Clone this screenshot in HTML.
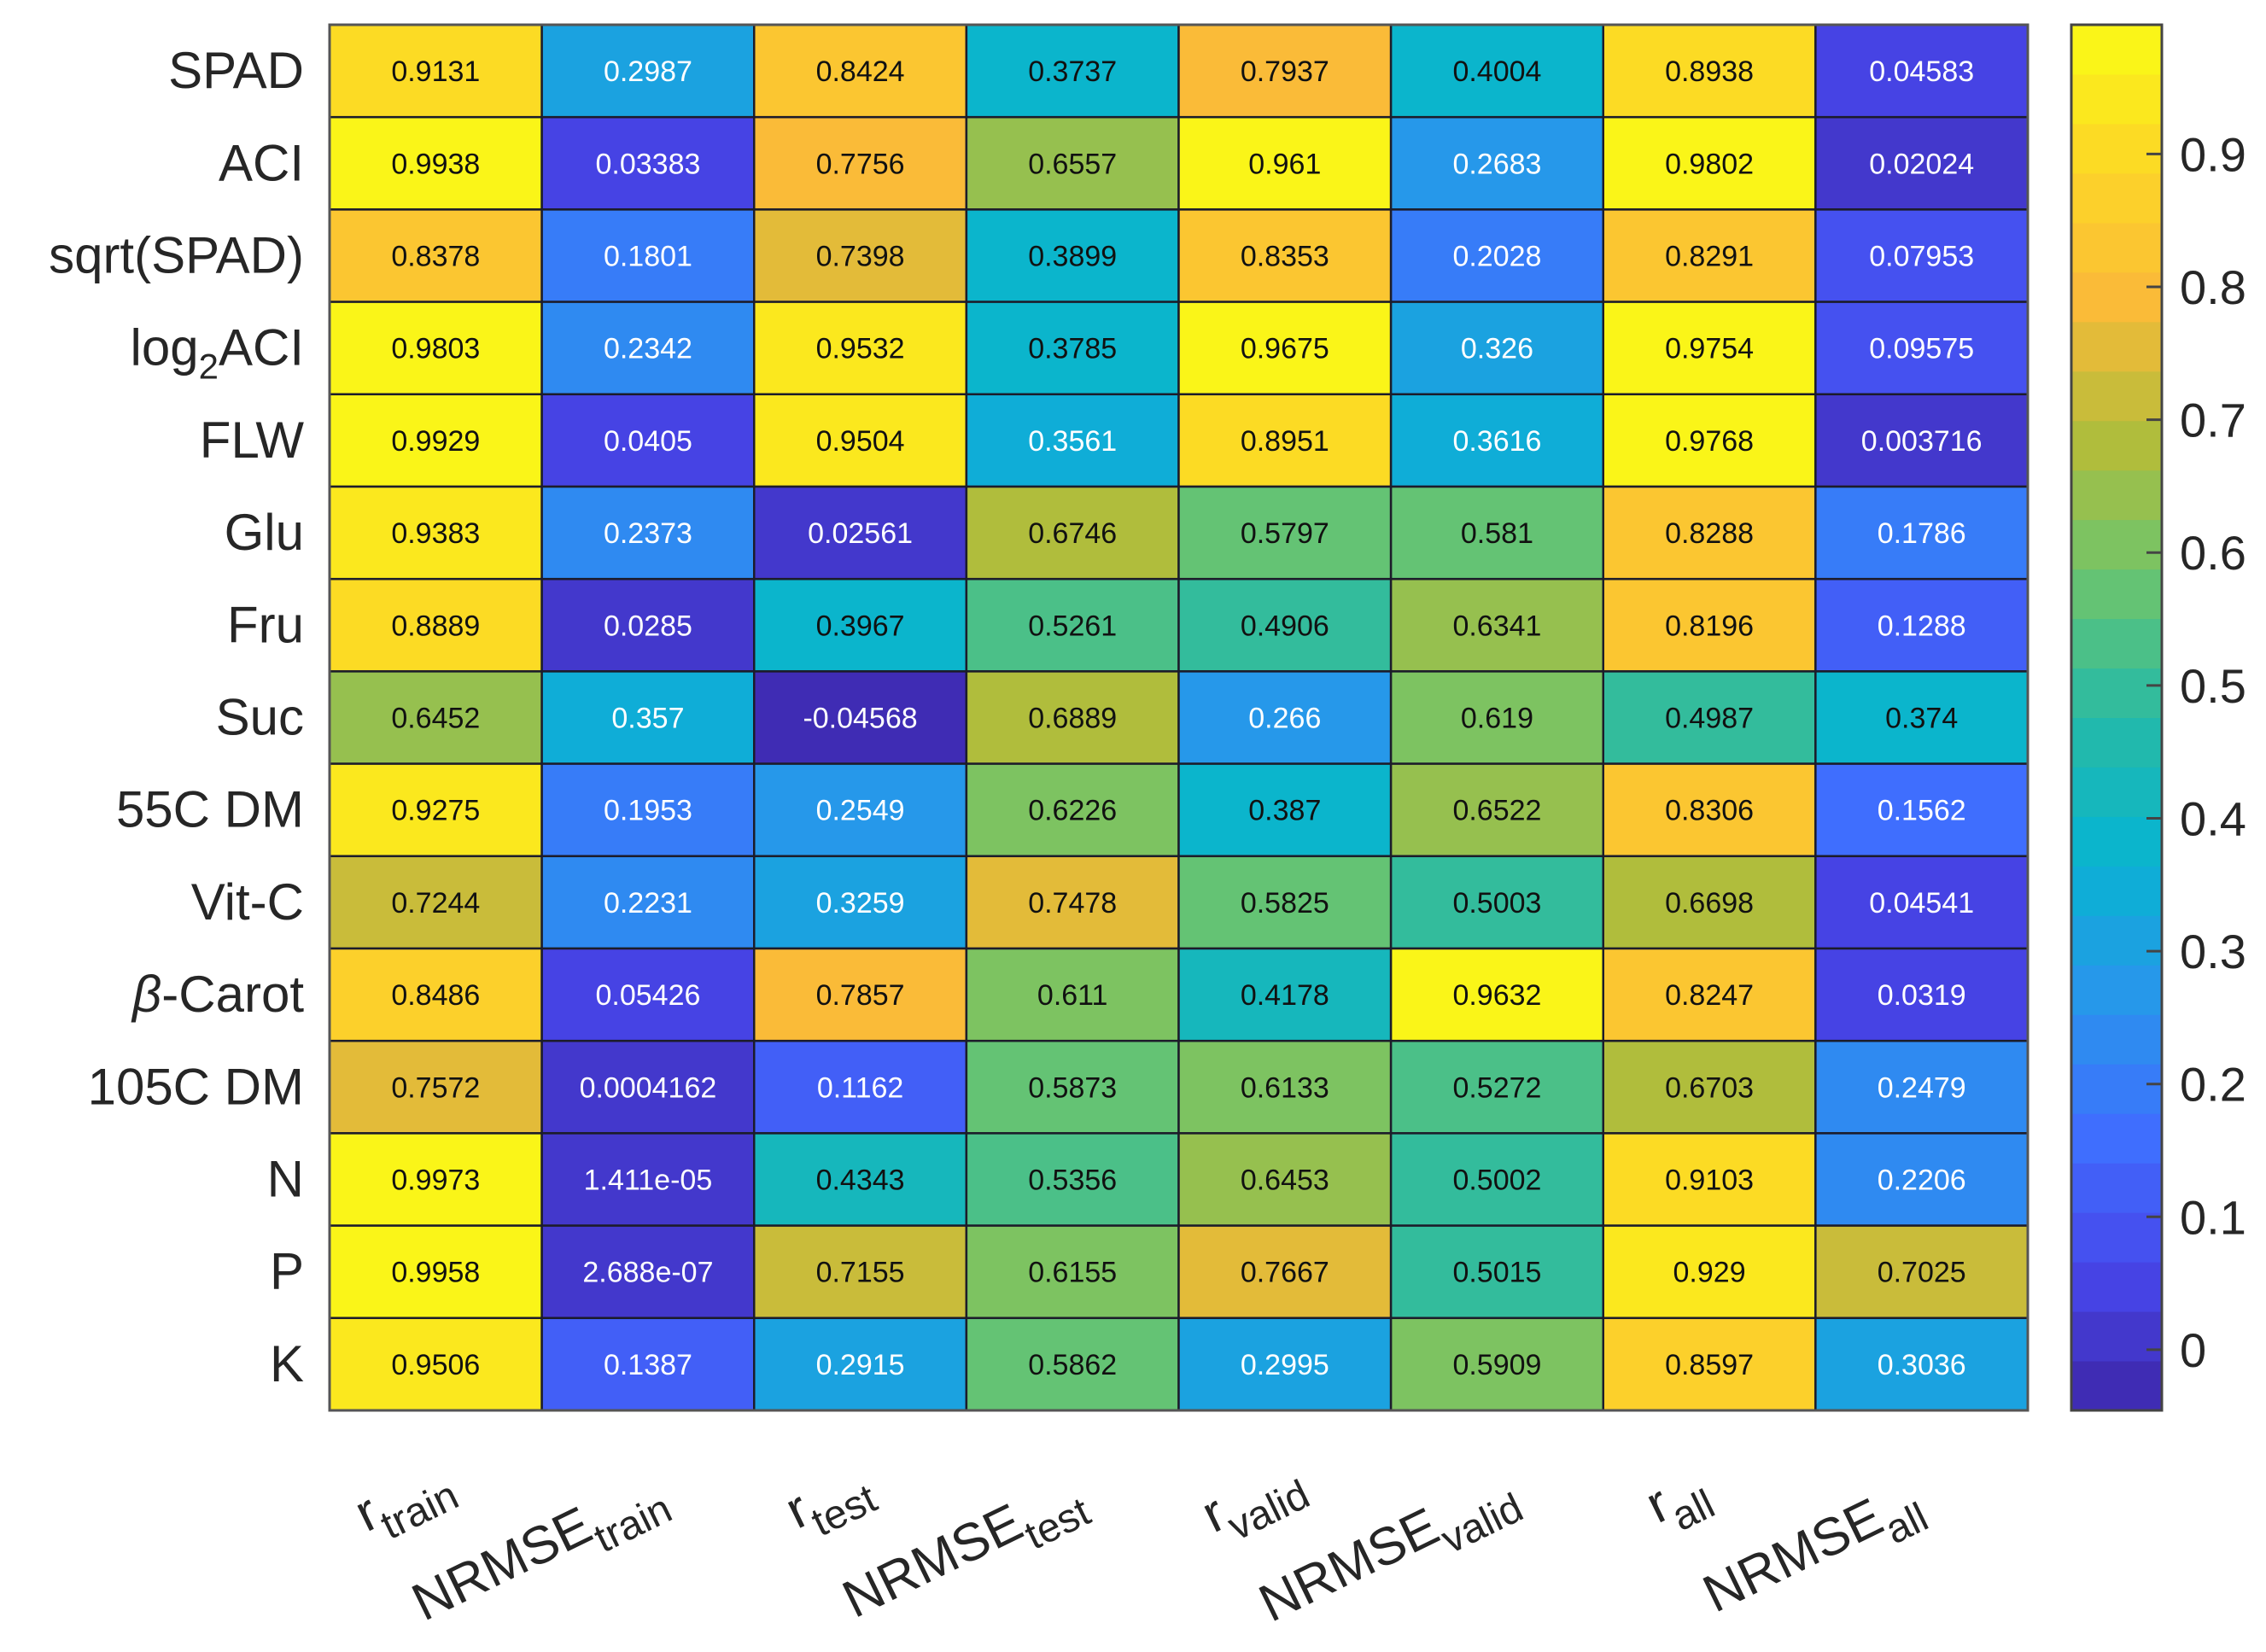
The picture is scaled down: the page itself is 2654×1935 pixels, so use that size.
<!DOCTYPE html>
<html><head><meta charset="utf-8">
<style>
html,body{margin:0;padding:0;background:#fff;}
svg{display:block;font-family:"Liberation Sans",Arial,sans-serif;}
</style></head>
<body>
<svg id="chart" width="2654" height="1935" viewBox="0 0 2654 1935" xmlns="http://www.w3.org/2000/svg"></svg>
<script>
const rowLabels = ["SPAD","ACI","sqrt(SPAD)","log2ACI","FLW","Glu","Fru","Suc","55C DM","Vit-C","β-Carot","105C DM","N","P","K"];
const colBase = ["r","NRMSE","r","NRMSE","r","NRMSE","r","NRMSE"];
const colSub = ["train","train","test","test","valid","valid","all","all"];
const cellText = [
["0.9131","0.2987","0.8424","0.3737","0.7937","0.4004","0.8938","0.04583"],
["0.9938","0.03383","0.7756","0.6557","0.961","0.2683","0.9802","0.02024"],
["0.8378","0.1801","0.7398","0.3899","0.8353","0.2028","0.8291","0.07953"],
["0.9803","0.2342","0.9532","0.3785","0.9675","0.326","0.9754","0.09575"],
["0.9929","0.0405","0.9504","0.3561","0.8951","0.3616","0.9768","0.003716"],
["0.9383","0.2373","0.02561","0.6746","0.5797","0.581","0.8288","0.1786"],
["0.8889","0.0285","0.3967","0.5261","0.4906","0.6341","0.8196","0.1288"],
["0.6452","0.357","-0.04568","0.6889","0.266","0.619","0.4987","0.374"],
["0.9275","0.1953","0.2549","0.6226","0.387","0.6522","0.8306","0.1562"],
["0.7244","0.2231","0.3259","0.7478","0.5825","0.5003","0.6698","0.04541"],
["0.8486","0.05426","0.7857","0.611","0.4178","0.9632","0.8247","0.0319"],
["0.7572","0.0004162","0.1162","0.5873","0.6133","0.5272","0.6703","0.2479"],
["0.9973","1.411e-05","0.4343","0.5356","0.6453","0.5002","0.9103","0.2206"],
["0.9958","2.688e-07","0.7155","0.6155","0.7667","0.5015","0.929","0.7025"],
["0.9506","0.1387","0.2915","0.5862","0.2995","0.5909","0.8597","0.3036"]
];
const cbTicks = [0,0.1,0.2,0.3,0.4,0.5,0.6,0.7,0.8,0.9];

const NS="http://www.w3.org/2000/svg";
const svg=document.getElementById('chart');
const L=386,R=2375,T=29,B=1652;
const nC=8,nR=rowLabels.length;
const cw=(R-L)/nC, rh=(B-T)/nR;
const vmin=-0.04568, vmax=0.9973, NLEV=28;
const stops=[[0.2422,0.1504,0.6603],[0.2803,0.2782,0.9221],[0.2440,0.4358,0.9988],[0.1540,0.5902,0.9218],[0.0297,0.7082,0.8163],[0.1500,0.7300,0.6500],[0.4200,0.7700,0.4300],[0.7000,0.7411,0.2300],[0.9790,0.7301,0.2214],[0.9892,0.8436,0.1485],[0.9769,0.9839,0.0805]];
function parula(t){t=Math.max(0,Math.min(1,t));const p=t*10,i=Math.min(9,Math.floor(p)),f=p-i;const a=stops[i],b=stops[i+1];return 'rgb('+[0,1,2].map(k=>Math.round(255*(a[k]+(b[k]-a[k])*f))).join(',')+')';}
function colorFor(v){let t=(v-vmin)/(vmax-vmin);let lv=Math.min(NLEV-1,Math.floor(t*NLEV));return parula((lv+0.5)/NLEV);}
function el(tag,attrs,parent){const e=document.createElementNS(NS,tag);for(const k in attrs)e.setAttribute(k,attrs[k]);(parent||svg).appendChild(e);return e;}
const xPos=c=>L+c*cw, yPos=r=>T+r*rh;

for(let r=0;r<nR;r++){for(let c=0;c<nC;c++){
  const v=parseFloat(cellText[r][c]);
  const rect=el('rect',{x:xPos(c),y:yPos(r),width:cw,height:rh,fill:colorFor(v),stroke:'#1c1c2a','stroke-width':2.5});
  
  
  const t=el('text',{x:xPos(c)+cw/2,y:yPos(r)+rh/2+12,'text-anchor':'middle','font-size':34,fill:(v<0.365?'#ffffff':'#111111')});
  t.textContent=cellText[r][c];
  
  
}}
el('rect',{x:L,y:T,width:R-L,height:B-T,fill:'none',stroke:'#555','stroke-width':3});

for(let r=0;r<nR;r++){
  const t=el('text',{x:356,y:yPos(r)+rh/2+20,'text-anchor':'end','font-size':60,fill:'#262626'});
  const lab=rowLabels[r];
  if(lab==='log2ACI'){t.textContent='log';const s=el('tspan',{dy:16,'font-size':42},t);s.textContent='2';const s2=el('tspan',{dy:-16},t);s2.textContent='ACI';}
  else if(lab==='β-Carot'){const s=el('tspan',{'font-style':'italic'},t);s.textContent='β';const s2=el('tspan',{},t);s2.textContent='-Carot';}
  else t.textContent=lab;
  
  
}

for(let c=0;c<nC;c++){
  const isR=colBase[c]==='r';
  const cx=xPos(c)+cw/2+(isR?-30:-120), cy=isR?1770:1830;
  const g=el('g',{transform:'translate('+cx+','+cy+') rotate(-26)'});
  const t=el('text',{x:0,y:0,'text-anchor':'middle','font-size':62,fill:'#262626'},g);
  const a=el('tspan',{},t);a.textContent=colBase[c];
  const b=el('tspan',{dy:20,'font-size':48},t);b.textContent=colSub[c];
  
  
}

const CL=2426,CR=2532;
const cbY=v=>B-(v-vmin)/(vmax-vmin)*(B-T);
for(let i=0;i<NLEV;i++){
  const v0=vmin+i*(vmax-vmin)/NLEV, v1=vmin+(i+1)*(vmax-vmin)/NLEV;
  const b=el('rect',{x:CL,y:cbY(v1),width:CR-CL,height:cbY(v0)-cbY(v1)+0.5,fill:parula((i+0.5)/NLEV)});
  
  
}
el('rect',{x:CL,y:T,width:CR-CL,height:B-T,fill:'none',stroke:'#444','stroke-width':3});
cbTicks.forEach(v=>{
  const y=cbY(v);
  el('line',{x1:CR-18,x2:CR,y1:y,y2:y,stroke:'#444','stroke-width':3});
  const t=el('text',{x:2553,y:y+20,'font-size':56,fill:'#262626'});
  t.textContent=String(v);
  
  
});
</script>
</body></html>
